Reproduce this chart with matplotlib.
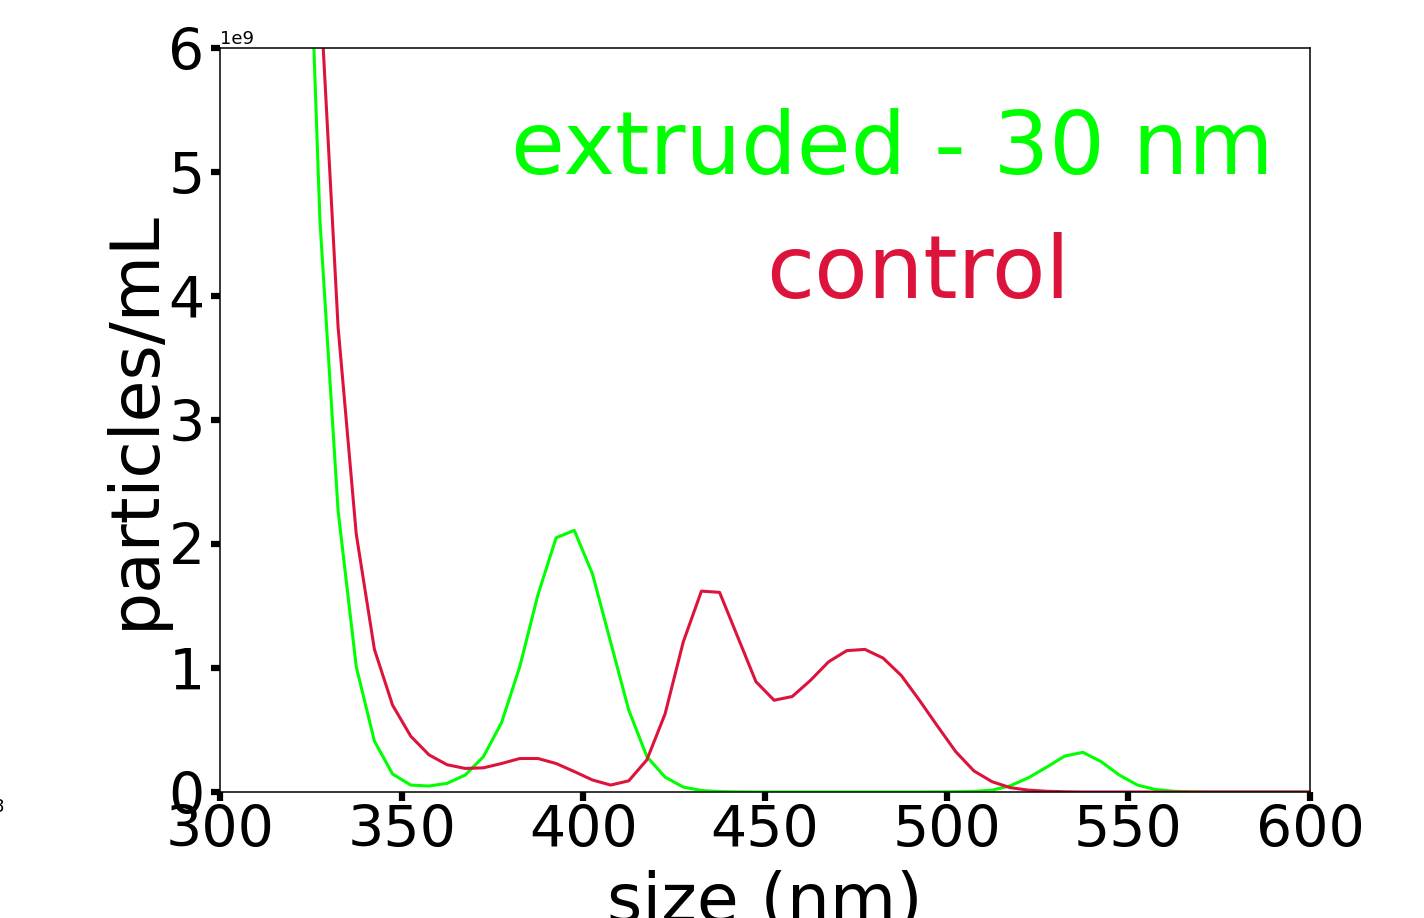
import matplotlib
matplotlib.use("Agg")
import matplotlib.pyplot as plt
import numpy as np

# Data (particles/mL in units of 1e9)
size_nm = [322.5, 327.5, 332.5, 337.5, 342.5, 347.5, 352.5, 357.5, 362.5, 367.5,
           372.5, 377.5, 382.5, 387.5, 392.5, 397.5, 402.5, 407.5, 412.5, 417.5,
           422.5, 427.5, 432.5, 437.5, 442.5, 447.5, 452.5, 457.5, 462.5, 467.5,
           472.5, 477.5, 482.5, 487.5, 492.5, 497.5, 502.5, 507.5, 512.5, 517.5,
           522.5, 527.5, 532.5, 537.5, 542.5, 547.5, 552.5, 557.5, 562.5, 567.5,
           572.5, 577.5, 582.5, 587.5, 592.5, 597.5, 602.5]

extruded_30nm = [8.8, 4.61, 2.27, 1.01, 0.41, 0.145, 0.056, 0.048, 0.07, 0.137,
                 0.285, 0.56, 1.01, 1.59, 2.05, 2.11, 1.76, 1.21, 0.66, 0.285,
                 0.12, 0.04, 0.012, 0.004, 0.001, 0.0, 0.0, 0.0, 0.0, 0.0,
                 0.0, 0.0, 0.0, 0.0, 0.0, 0.001, 0.002, 0.005, 0.015, 0.05,
                 0.115, 0.20, 0.29, 0.32, 0.245, 0.137, 0.056, 0.02, 0.006, 0.001,
                 0.0, 0.0, 0.0, 0.0, 0.0, 0.0, 0.0]

control = [15.0, 6.5, 3.75, 2.08, 1.15, 0.70, 0.45, 0.30, 0.22, 0.19,
           0.195, 0.23, 0.27, 0.27, 0.23, 0.165, 0.097, 0.056, 0.09, 0.26,
           0.63, 1.21, 1.62, 1.61, 1.25, 0.89, 0.74, 0.77, 0.90, 1.05,
           1.14, 1.15, 1.08, 0.94, 0.74, 0.53, 0.325, 0.17, 0.083, 0.035,
           0.015, 0.006, 0.002, 0.0, 0.0, 0.0, 0.0, 0.0, 0.0, 0.0,
           0.0, 0.0, 0.0, 0.0, 0.0, 0.0, 0.0]

x_ticks = [300, 350, 400, 450, 500, 550, 600]
y_ticks = [0, 1, 2, 3, 4, 5, 6]

GREEN = "#00ff00"
RED = "#dc143c"

W, H = 1424, 918
fig = plt.figure(figsize=(W / 100, H / 100), dpi=100)
ax = fig.add_axes([220 / W, 1 - 792 / H, 1090 / W, 744 / H])

ax.plot(size_nm, np.array(extruded_30nm) * 1e9, color=GREEN, lw=2.2)
ax.plot(size_nm, np.array(control) * 1e9, color=RED, lw=2.2)

ax.set_xlim(300, 600)
ax.set_ylim(0, 6e9)
ax.set_xticks(x_ticks)
ax.set_yticks([v * 1e9 for v in y_ticks])
ax.tick_params(labelsize=41, length=6.5, width=4.5)
ax.tick_params(axis="x", pad=2)
ax.tick_params(axis="y", pad=4.5)
ax.yaxis.get_offset_text().set_fontsize(13)
for sp in ax.spines.values():
    sp.set_linewidth(1.1)

ax.set_xlabel("size (nm)", fontsize=49, labelpad=8)
ax.set_ylabel("particles/mL", fontsize=49, labelpad=0)

ax.text(892 / W, 1 - 174 / H, "extruded - 30 nm", color=GREEN, fontsize=63,
        ha="center", va="baseline", transform=fig.transFigure)
ax.text(918 / W, 1 - 298 / H, "control", color=RED, fontsize=63,
        ha="center", va="baseline", transform=fig.transFigure)

fig.text(4 / W, 1 - 812 / H, "8", fontsize=13, ha="right", va="baseline")

fig.savefig("out.png", dpi=100)
